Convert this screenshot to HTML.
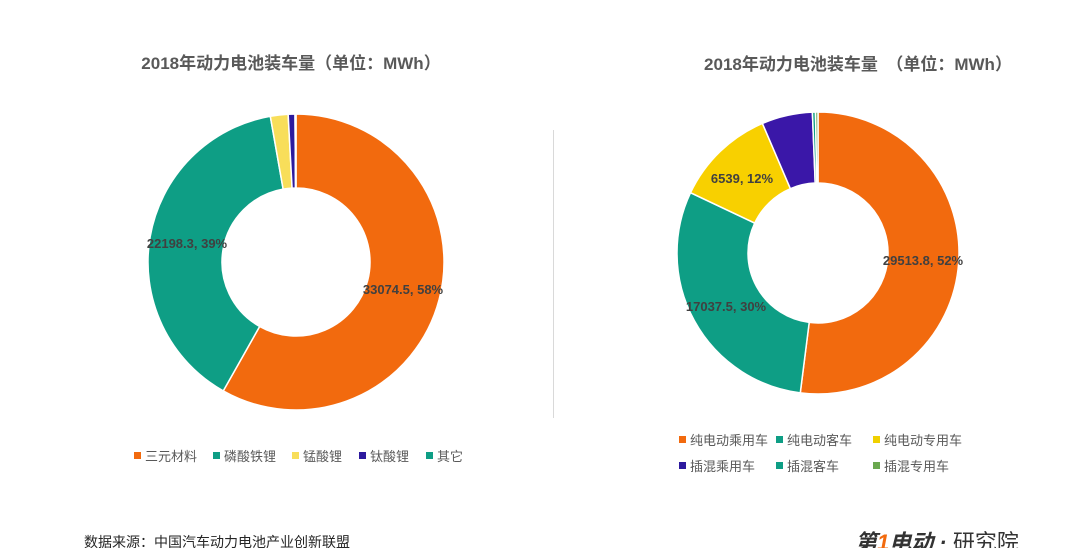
<!DOCTYPE html>
<html><head><meta charset="utf-8"><style>
body{margin:0;width:1080px;height:548px;background:#fff;overflow:hidden;font-family:"Liberation Sans","Noto Sans CJK SC",sans-serif;}
svg{position:absolute;left:0;top:0}
</style></head><body>
<svg id="s" width="1080" height="548" xmlns="http://www.w3.org/2000/svg" font-family="Liberation Sans, Noto Sans CJK SC, sans-serif">
<text x="291" y="69" text-anchor="middle" font-size="17" font-weight="bold" fill="#595959">2018年动力电池装车量（单位：MWh）</text>
<text x="858" y="70" text-anchor="middle" font-size="17" font-weight="bold" fill="#595959">2018年动力电池装车量　（单位：MWh）</text>
<line x1="553.5" y1="130" x2="553.5" y2="418" stroke="#d9d9d9" stroke-width="1"/>
<g id="d1"></g><g id="d2"></g>
<g font-size="13" font-weight="bold" fill="#404040">
<text x="187" y="248" text-anchor="middle">22198.3, 39%</text>
<text x="403" y="294" text-anchor="middle">33074.5, 58%</text>
<text x="742" y="183" text-anchor="middle">6539, 12%</text>
<text x="923" y="265" text-anchor="middle">29513.8, 52%</text>
<text x="726" y="311" text-anchor="middle">17037.5, 30%</text>
</g>
<g font-size="13" fill="#595959">
<rect x="134" y="452" width="7" height="7" fill="#f26a0e"/><text x="145" y="461">三元材料</text>
<rect x="213" y="452" width="7" height="7" fill="#0e9e85"/><text x="224" y="461">磷酸铁锂</text>
<rect x="292" y="452" width="7" height="7" fill="#f8de5a"/><text x="303" y="461">锰酸锂</text>
<rect x="359" y="452" width="7" height="7" fill="#2d1a9e"/><text x="370" y="461">钛酸锂</text>
<rect x="426" y="452" width="7" height="7" fill="#0e9e85"/><text x="437" y="461">其它</text>
<rect x="679" y="436" width="7" height="7" fill="#f26a0e"/><text x="690" y="445">纯电动乘用车</text>
<rect x="776" y="436" width="7" height="7" fill="#0e9e85"/><text x="787" y="445">纯电动客车</text>
<rect x="873" y="436" width="7" height="7" fill="#f0d000"/><text x="884" y="445">纯电动专用车</text>
<rect x="679" y="462" width="7" height="7" fill="#2d1a9e"/><text x="690" y="471">插混乘用车</text>
<rect x="776" y="462" width="7" height="7" fill="#0e9e85"/><text x="787" y="471">插混客车</text>
<rect x="873" y="462" width="7" height="7" fill="#6aa84f"/><text x="884" y="471">插混专用车</text>
</g>
<text x="84" y="547" font-size="14" fill="#262626">数据来源：中国汽车动力电池产业创新联盟</text>
<text x="855" y="550" font-size="22" font-style="italic" font-weight="bold" fill="#333">第<tspan fill="#f26a0e">1</tspan>电动 · <tspan font-style="normal" font-weight="normal">研究院</tspan></text>
</svg>
<script>
function donut(id,cx,cy,R,r,vals,cols){
 var t=vals.reduce(function(a,b){return a+b},0),a=0,g=document.getElementById(id),h='';
 vals.forEach(function(v,i){
  var a0=a/t*2*Math.PI,a1=(a+v)/t*2*Math.PI;a+=v;
  var p=function(rr,an){return (cx+rr*Math.sin(an)).toFixed(2)+','+(cy-rr*Math.cos(an)).toFixed(2)};
  var L=(a1-a0)>Math.PI?1:0;
  h+='<path d="M'+p(R,a0)+' A'+R+','+R+' 0 '+L+' 1 '+p(R,a1)+' L'+p(r,a1)+' A'+r+','+r+' 0 '+L+' 0 '+p(r,a0)+'Z" fill="'+cols[i]+'" stroke="#fff" stroke-width="1.5"/>';
 });
 g.innerHTML=h;
}
donut('d1',296,262,148,74,[33074.5,22198.3,1100,420,60],['#f26a0e','#0e9e85','#f8de5a','#2d1a9e','#0e9e85']);
donut('d2',818,253,141,70,[29513.8,17037.5,6539,3300,200,160],['#f26a0e','#0e9e85','#f8d000','#3a17a8','#0e9e85','#6aa84f']);
</script>
</body></html>
